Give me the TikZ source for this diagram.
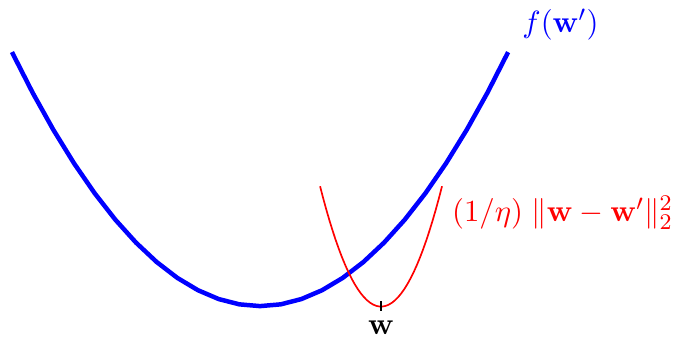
\documentclass[tikz,border=0pt]{standalone}
\begin{document}
\begin{tikzpicture}[font=\fontsize{10.8}{13}\selectfont]
\useasboundingbox (0,0) rectangle (8.48,4.216);

%objective
\draw[ultra thick,blue] plot[domain=0.15:6.374,samples=25] (\x,{0.376+0.329*(\x-3.262)*(\x-3.262)}) node[above right,xshift=1pt] (f) {$f(\mathbf{w}')$};

%proximal term
\draw[semithick,red] plot[domain=4.015:5.545,samples=40] (\x,{0.37+2.58*(\x-4.78)*(\x-4.78)}) node[below right] (prox) {$(1/\eta)\;\|\mathbf{w}-\mathbf{w}'\|_2^2$};

%tick
\coordinate (t) at (4.78,0.44);
\draw (t) -- ++(0,-0.13) node[below] (w) {$\mathbf{w}$};
\end{tikzpicture}
\end{document}
